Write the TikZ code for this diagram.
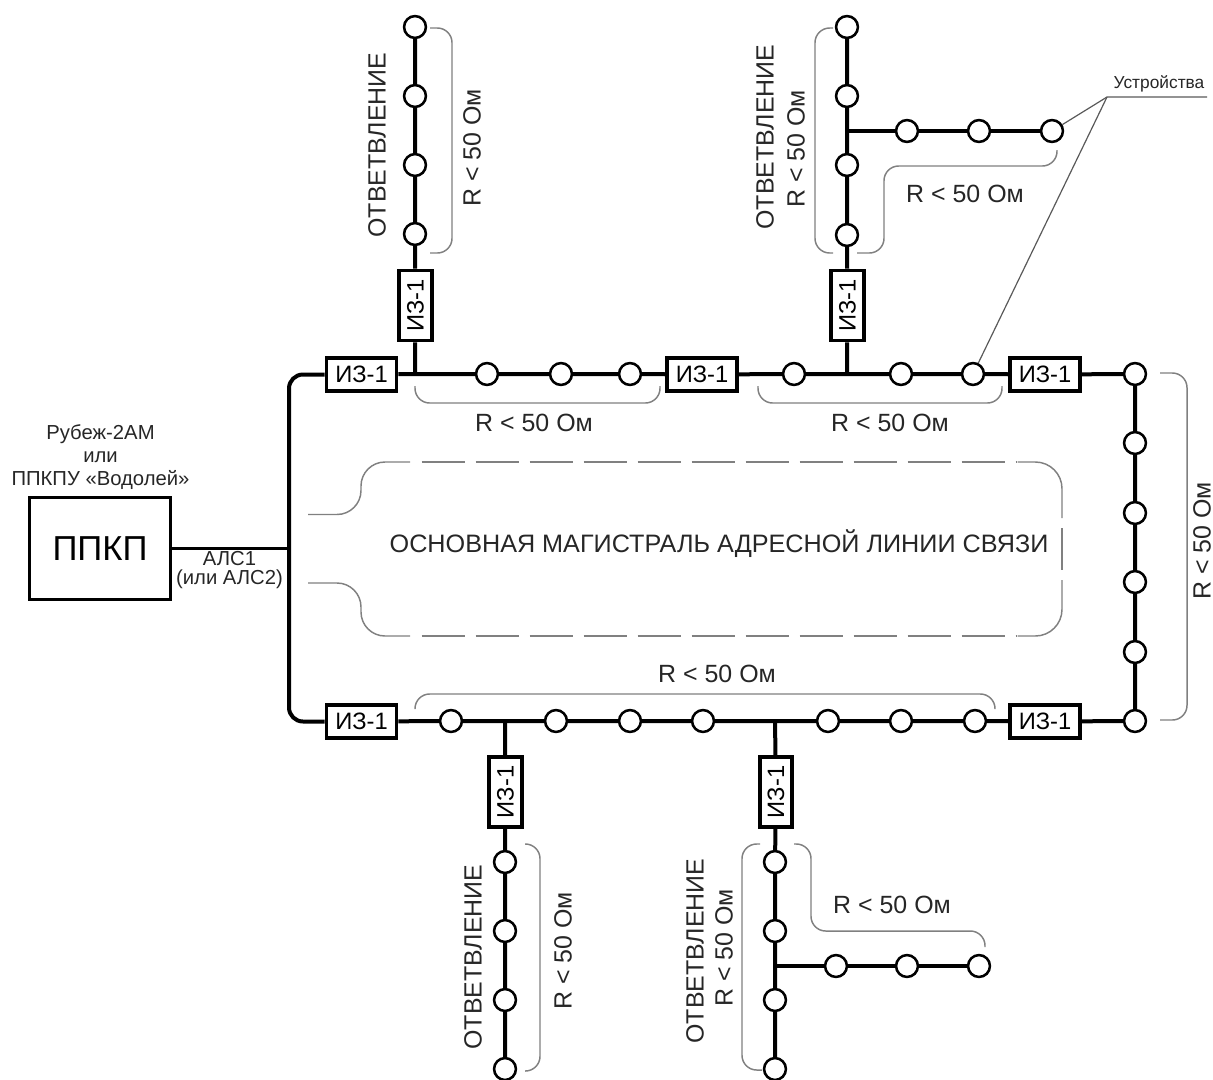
\documentclass[tikz,border=0pt]{standalone}
\usepackage{fontspec}
\setmainfont{Liberation Sans}
\newcommand{\fpx}[1]{\fontsize{#1}{#1}\selectfont}
\definecolor{brk}{gray}{0.5}
\tikzset{
  dev/.style={circle,draw=black,fill=white,line width=1.9pt,minimum size=16.4pt,inner sep=0pt},
  iso/.style={rectangle,draw=black,fill=white,line width=2.9pt,minimum width=52.5pt,minimum height=24.5pt,inner sep=0pt,font=\fpx{17.8}},
  isov/.style={iso,rotate=90},
  bus/.style={line width=3pt,black},
  brace/.style={line width=1.1pt,brk,rounded corners=11pt},
  brace2/.style={line width=1.1pt,brk},
  lab/.style={inner sep=0pt,font=\fpx{18.7},text=black!85},
  labv/.style={lab,rotate=90},
  small/.style={inner sep=0pt,font=\fpx{15.2},text=black!85,align=center},
}
\begin{document}
\begin{tikzpicture}[x=0.75pt,y=-0.75pt]
\path[use as bounding box] (0,0) rectangle (1213,1079);
\clip (0,0) rectangle (1213,1079);
% controller
\node[rectangle,draw,line width=2.2pt,minimum width=106pt,minimum height=76pt,inner sep=0pt,font=\fpx{26}] (ppkp) at (100,548.5) {ППКП};
\node[small] (ctl) at (100.5,457) {Рубеж-2АМ\\[2pt]или\\[2pt]ППКПУ «Водолей»};
\coordinate (busj) at (289,548.5);
% isolators on trunk
\node[iso] (it1) at (361.5,374.5) {ИЗ-1};
\node[iso] (it2) at (702,374.5) {ИЗ-1};
\node[iso] (it3) at (1045,374.5) {ИЗ-1};
\node[iso] (ib1) at (361.5,721.5) {ИЗ-1};
\node[iso] (ib2) at (1045,721.5) {ИЗ-1};
% top trunk devices
\foreach \n/\x in {t1/487,t2/561,t3/630,t4/794,t5/901,t6/973,c0/1135} \node[dev] (\n) at (\x,374) {};
\coordinate (j1) at (415,374);
\coordinate (j2) at (847,374);
% right side
\foreach \n/\y in {c1/443,c2/513,c3/582,c4/652,c5/721} \node[dev] (\n) at (1135,\y) {};
% bottom trunk devices
\foreach \n/\x in {b1/451,b2/556,b3/630,b4/703,b5/828,b6/901,b7/975} \node[dev] (\n) at (\x,721) {};
\coordinate (j3) at (505,721);
\coordinate (j4) at (775,721);
% branch 1
\node[isov] (iv1) at (415.5,305.5) {ИЗ-1};
\foreach \n/\y in {a1/234,a2/165,a3/96,a4/27} \node[dev] (\n) at (415,\y) {};
% branch 2
\node[isov] (iv2) at (847.5,305.5) {ИЗ-1};
\foreach \n/\y in {d1/235,d2/165,d3/96,d4/27} \node[dev] (\n) at (847,\y) {};
\coordinate (j5) at (847,131);
\foreach \n/\x in {e1/907,e2/979,e3/1052} \node[dev] (\n) at (\x,131) {};
% branch 3
\node[isov] (iv3) at (505.5,792) {ИЗ-1};
\foreach \n/\y in {f1/862,f2/931,f3/1000,f4/1069} \node[dev] (\n) at (505,\y) {};
% branch 4
\node[isov] (iv4) at (776,792) {ИЗ-1};
\foreach \n/\y in {g1/862,g2/931,g3/1000,g4/1069} \node[dev] (\n) at (775,\y) {};
\coordinate (j6) at (775,966);
\foreach \n/\x in {h1/836,h2/907,h3/979} \node[dev] (\n) at (\x,966) {};
% connectors
\draw[line width=2.4pt] (ppkp) -- (busj);
\draw[bus,rounded corners=10.5pt] (it1.west) -| (busj) |- (ib1.west);
\draw[bus] (it1) -- (j1) -- (t1) -- (t2) -- (t3) -- (it2) -- (t4) -- (j2) -- (t5) -- (t6) -- (it3) -- (c0) -- (c1) -- (c2) -- (c3) -- (c4) -- (c5) -- (ib2) -- (b7) -- (b6) -- (b5) -- (j4) -- (b4) -- (b3) -- (b2) -- (j3) -- (b1) -- (ib1);
\draw[bus] (j1) -- (iv1) -- (a1) -- (a2) -- (a3) -- (a4);
\draw[bus] (j2) -- (iv2) -- (d1) -- (d2) -- (j5) -- (d3) -- (d4);
\draw[bus] (j5) -- (e1) -- (e2) -- (e3);
\draw[bus] (j3) -- (iv3) -- (f1) -- (f2) -- (f3) -- (f4);
\draw[bus] (j4) -- (iv4) -- (g1) -- (g2) -- (j6) -- (g3) -- (g4);
\draw[bus] (j6) -- (h1) -- (h2) -- (h3);
% resistance brackets
\draw[brace] (430,28) -- (452,28) -- (452,253) -- (430,253);
\draw[brace] (833,28) -- (815,28) -- (815,253) -- (833,253);
\draw[brace] (857,253) -- (884,253) -- (884,166) -- (1057,166) -- (1057,150);
\draw[brace] (415,386) -- (415,403) -- (660,403) -- (660,386);
\draw[brace] (758,386) -- (758,403) -- (1002,403) -- (1002,386);
\draw[brace] (1160,373) -- (1187,373) -- (1187,720) -- (1160,720);
\draw[brace] (415,709) -- (415,694) -- (995,694) -- (995,709);
\draw[brace] (525,844) -- (540,844) -- (540,1071) -- (525,1071);
\draw[brace] (760,844) -- (742,844) -- (742,1070) -- (762,1070);
\draw[brace] (794,844) -- (811,844) -- (811,931) -- (985,931) -- (985,947);
% main line frame
\draw[brace2,rounded corners=18pt] (308,514.5) -- (361,514.5) -- (361,462) -- (410,462);
\draw[brace2,rounded corners=18pt] (308,583) -- (361,583) -- (361,636) -- (410,636);
\draw[brace2,dash pattern=on 32.7pt off 7.8pt] (421.5,462) -- (1017,462);
\draw[brace2,dash pattern=on 32.7pt off 7.8pt] (421.5,636) -- (1017,636);
\draw[brace2,rounded corners=20pt] (1017.7,462) -- (1062,462) -- (1062,518);
\draw[brace2] (1062,528) -- (1062,570);
\draw[brace2,rounded corners=20pt] (1017.7,636) -- (1062,636) -- (1062,580);
% device callout
\coordinate (cal) at (1107,97);
\coordinate (calr) at (1207,97);
\draw[line width=0.9pt,black!65] (calr) -- (cal) -- (e3);
\draw[line width=0.9pt,black!65] (cal) -- (t6);
% labels
\node[inner sep=0pt,font=\fpx{13},text=black!85] (ust) at (1159,84) {Устройства};
\node[labv] (l1) at (377,145) {ОТВЕТВЛЕНИЕ};
\node[labv] (l2) at (472,148) {R < 50 Ом};
\node[labv] (l3) at (765,137) {ОТВЕТВЛЕНИЕ};
\node[labv] (l4) at (796,149) {R < 50 Ом};
\node[lab] (l5) at (965,194) {R < 50 Ом};
\node[lab] (l6) at (534,423) {R < 50 Ом};
\node[lab] (l7) at (890,423) {R < 50 Ом};
\node[lab] (l8) at (717,674) {R < 50 Ом};
\node[labv] (l9) at (1202,541) {R < 50 Ом};
\node[lab] (l10) at (892,905) {R < 50 Ом};
\node[labv] (l11) at (473,957) {ОТВЕТВЛЕНИЕ};
\node[labv] (l12) at (563,951) {R < 50 Ом};
\node[labv] (l13) at (695,951) {ОТВЕТВЛЕНИЕ};
\node[labv] (l14) at (724,948) {R < 50 Ом};
\node[lab,font=\fpx{18.9}] (main) at (719,544) {ОСНОВНАЯ МАГИСТРАЛЬ АДРЕСНОЙ ЛИНИИ СВЯЗИ};
\node[small] (als) at (229.5,570) {АЛС1\\[-0.9pt](или АЛС2)};
\end{tikzpicture}
\end{document}
